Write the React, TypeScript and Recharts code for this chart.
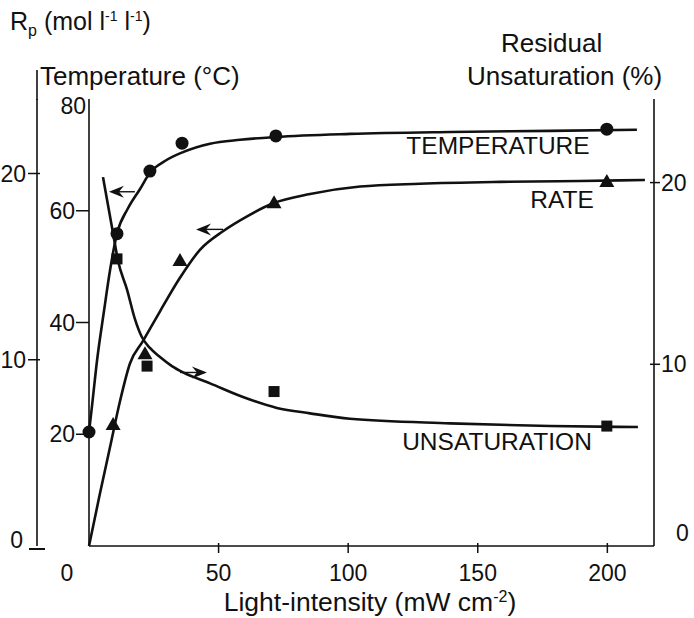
import { ComposedChart, Customized, Line, ReferenceLine, Scatter, XAxis, YAxis } from 'recharts'

const FONT = '"Liberation Sans", Arial, Helvetica, sans-serif'
const INK = '#111'

// axis ticks
const xTicks = [0, 50, 100, 150, 200]
const tempTicks = [20, 40, 60, 80]
const rateTicks = [0, 10, 20]
const unsatTicks = [0, 10, 20]

// measured points (light intensity, value)
const tempMarkX = [0, 10.8, 23.5, 35.9, 72.1, 199.8]
const tempMarkY = [20.4, 55.9, 67.1, 72.1, 73.4, 74.6]
const rateMarkX = [9.3, 21.6, 35.1, 71.4, 199.8]
const rateMarkY = [6.5, 10.3, 15.3, 18.4, 19.55]
const unsatMarkX = [10.8, 22.4, 71.4, 199.8]
const unsatMarkY = [15.8, 9.9, 8.5, 6.6]

// hand-drawn curves
const tempCurveX = [0, 1.2, 3.1, 5.8, 8.1, 10.8, 15.0, 19.7, 23.5, 29.3, 36.3, 46.7, 58.3, 72.1, 100.7, 139.3, 177.9, 211.4]
const tempCurveY = [20.4, 25.2, 33.2, 42.1, 49.3, 55.9, 60.4, 63.9, 66.8, 68.9, 70.5, 72.0, 72.7, 73.2, 73.75, 74.1, 74.3, 74.5]
const rateCurveX = [0, 4.2, 8.1, 12.0, 15.8, 20.8, 27.4, 35.1, 42.8, 51.7, 61.0, 71.0, 85.3, 104.6, 127.7, 158.6, 189.4, 214.5]
const rateCurveY = [0, 2.8, 5.3, 7.8, 9.8, 11.0, 12.6, 14.4, 15.9, 16.9, 17.7, 18.4, 18.9, 19.3, 19.45, 19.55, 19.6, 19.65]
const unsatCurveX = [5.4, 9.3, 11.2, 14.7, 17.7, 20.4, 23.5, 27.4, 32.0, 36.3, 46.7, 59.4, 72.5, 85.3, 100.7, 139.3, 177.9, 211.8]
const unsatCurveY = [20.3, 17.2, 15.7, 14.1, 12.5, 11.5, 10.9, 10.4, 9.9, 9.55, 8.95, 8.2, 7.6, 7.3, 7.0, 6.75, 6.6, 6.55]

const zip = (xs: number[], ys: number[]) => xs.map((x, i) => ({ x, y: ys[i] }))

const tempCurve = zip(tempCurveX, tempCurveY)
const rateCurve = zip(rateCurveX, rateCurveY)
const unsatCurve = zip(unsatCurveX, unsatCurveY)
const tempMarks = zip(tempMarkX, tempMarkY)
const rateMarks = zip(rateMarkX, rateMarkY)
const unsatMarks = zip(unsatMarkX, unsatMarkY)

// axis ids; the left axes are stacked in id order (first = next to the plot)
const TEMP = 'a-temp'
const RATE = 'b-rate'
const UNSAT = 'c-unsat'

const textStyle = { fontFamily: FONT, fill: INK }

function XTick({ x, y, payload }: any) {
  const v = payload.value
  return (
    <g>
      {v !== 0 && <line x1={x} x2={x} y1={y - 3} y2={y + 7} stroke={INK} strokeWidth={1.5} />}
      <text x={v === 0 ? x - 22 : x} y={y + 35} textAnchor="middle" fontSize={23} {...textStyle}>
        {v}
      </text>
    </g>
  )
}

function TempTick({ x, y, payload }: any) {
  const v = payload.value
  return (
    <g>
      {v !== 80 && <line x1={x - 13} x2={x} y1={y} y2={y} stroke={INK} strokeWidth={1.5} />}
      <text x={v === 80 ? x - 3 : x - 14} y={v === 80 ? y + 15 : y + 8} textAnchor="end" fontSize={23} {...textStyle}>
        {v}
      </text>
    </g>
  )
}

function RateTick({ x, y, payload }: any) {
  const v = payload.value
  return (
    <g>
      {v === 0 ? (
        <line x1={x - 8} x2={x + 8} y1={y + 3} y2={y + 3} stroke={INK} strokeWidth={2} />
      ) : (
        <line x1={x - 9} x2={x + 3} y1={y} y2={y} stroke={INK} strokeWidth={1.5} />
      )}
      <text x={v === 0 ? x - 14 : x - 11} y={v === 0 ? y + 2 : y + 8} textAnchor="end" fontSize={23} {...textStyle}>
        {v}
      </text>
    </g>
  )
}

function UnsatTick({ x, y, payload }: any) {
  const v = payload.value
  return (
    <g>
      {v !== 0 && <line x1={x - 4} x2={x + 6} y1={y} y2={y} stroke={INK} strokeWidth={1.5} />}
      <text x={v === 0 ? x + 22 : x + 7} y={v === 0 ? y - 5 : y + 8} textAnchor="start" fontSize={23} {...textStyle}>
        {v}
      </text>
    </g>
  )
}

function Arrow({ x1, y1, x2, y2 }: any) {
  const dx = x2 - x1
  const dy = y2 - y1
  const len = Math.hypot(dx, dy) || 1
  const ux = dx / len
  const uy = dy / len
  const nx = -uy
  const ny = ux
  const bx = x2 - ux * 15
  const by = y2 - uy * 15
  const ix = x2 - ux * 10
  const iy = y2 - uy * 10
  return (
    <g>
      <line x1={x1} y1={y1} x2={ix} y2={iy} stroke={INK} strokeWidth={1.4} />
      <polygon
        points={`${x2},${y2} ${bx + nx * 6},${by + ny * 6} ${ix},${iy} ${bx - nx * 6},${by - ny * 6}`}
        fill={INK}
      />
    </g>
  )
}

const circle = (p: any) => <circle cx={p.cx} cy={p.cy} r={6.5} fill={INK} />
const triangle = (p: any) => (
  <polygon points={`${p.cx},${p.cy - 8} ${p.cx - 7.5},${p.cy + 5} ${p.cx + 7.5},${p.cy + 5}`} fill={INK} />
)
const square = (p: any) => <rect x={p.cx - 5.5} y={p.cy - 5.5} width={11} height={11} fill={INK} />

function Titles() {
  return (
    <g {...textStyle}>
      <line x1={37} x2={37} y1={70} y2={100} stroke={INK} strokeWidth={1.6} />
      <text x={10} y={30} fontSize={25} {...textStyle}>
        R<tspan dy={6} fontSize={16}>p</tspan>
        <tspan dy={-6}> (mol l</tspan>
        <tspan dy={-9} fontSize={14}>-1</tspan>
        <tspan dy={9}> l</tspan>
        <tspan dy={-9} fontSize={14}>-1</tspan>
        <tspan dy={9}>)</tspan>
      </text>
      <text x={40} y={85} fontSize={26} {...textStyle}>Temperature (°C)</text>
      <text x={501} y={52} fontSize={26} {...textStyle}>Residual</text>
      <text x={467} y={85} fontSize={26} {...textStyle}>Unsaturation (%)</text>
      <text x={370} y={611} fontSize={26.5} textAnchor="middle" {...textStyle}>
        Light-intensity (mW cm<tspan dy={-9} fontSize={16}>-2</tspan>
        <tspan dy={9}>)</tspan>
      </text>
      <text x={498} y={154} fontSize={24.5} textAnchor="middle" {...textStyle}>TEMPERATURE</text>
      <text x={562} y={208} fontSize={24.5} textAnchor="middle" {...textStyle}>RATE</text>
      <text x={497} y={450} fontSize={24.5} textAnchor="middle" {...textStyle}>UNSATURATION</text>
    </g>
  )
}

export default function App() {
  const axisLine = { stroke: INK, strokeWidth: 1.6 }
  return (
    <div style={{ position: 'absolute', left: 0, top: 0, width: 694, height: 618, background: '#fff' }}>
      <ComposedChart width={694} height={618} margin={{ top: 99, right: 0, bottom: 0, left: 0 }}>
        <XAxis
          xAxisId="x"
          type="number"
          dataKey="x"
          domain={[0, 218]}
          ticks={xTicks}
          interval={0}
          height={72}
          tickSize={0}
          tickMargin={0}
          tickLine={false}
          axisLine={axisLine}
          tick={<XTick />}
        />
        <XAxis xAxisId="top" orientation="top" type="number" domain={[0, 218]} height={0} tick={false} tickLine={false} axisLine={axisLine} />
        <YAxis
          yAxisId={TEMP}
          orientation="left"
          type="number"
          width={52}
          domain={[0, 80]}
          ticks={tempTicks}
          interval={0}
          tickSize={0}
          tickMargin={0}
          tickLine={false}
          axisLine={axisLine}
          tick={<TempTick />}
        />
        <YAxis
          yAxisId={RATE}
          orientation="left"
          type="number"
          width={37}
          domain={[0, 24]}
          ticks={rateTicks}
          interval={0}
          tickSize={0}
          tickMargin={0}
          tickLine={false}
          axisLine={axisLine}
          tick={<RateTick />}
        />
        <YAxis
          yAxisId={UNSAT}
          orientation="right"
          type="number"
          width={40}
          domain={[0, 24.6]}
          ticks={unsatTicks}
          interval={0}
          tickSize={0}
          tickMargin={0}
          tickLine={false}
          axisLine={axisLine}
          tick={<UnsatTick />}
        />

        <Line data={tempCurve} xAxisId="x" yAxisId={TEMP} dataKey="y" type="monotone" stroke={INK} strokeWidth={2.6} dot={false} isAnimationActive={false} />
        <Line data={rateCurve} xAxisId="x" yAxisId={RATE} dataKey="y" type="monotone" stroke={INK} strokeWidth={2.6} dot={false} isAnimationActive={false} />
        <Line data={unsatCurve} xAxisId="x" yAxisId={UNSAT} dataKey="y" type="monotone" stroke={INK} strokeWidth={2.6} dot={false} isAnimationActive={false} />

        <Scatter data={tempMarks} xAxisId="x" yAxisId={TEMP} dataKey="y" shape={circle} isAnimationActive={false} />
        <Scatter data={rateMarks} xAxisId="x" yAxisId={RATE} dataKey="y" shape={triangle} isAnimationActive={false} />
        <Scatter data={unsatMarks} xAxisId="x" yAxisId={UNSAT} dataKey="y" shape={square} isAnimationActive={false} />

        <ReferenceLine xAxisId="x" yAxisId={TEMP} segment={[{ x: 17.7, y: 63.4 }, { x: 7.7, y: 63.4 }]} shape={Arrow} />
        <ReferenceLine xAxisId="x" yAxisId={RATE} segment={[{ x: 51.7, y: 17.0 }, { x: 41.3, y: 17.0 }]} shape={Arrow} />
        <ReferenceLine xAxisId="x" yAxisId={UNSAT} segment={[{ x: 35.1, y: 9.55 }, { x: 45.5, y: 9.55 }]} shape={Arrow} />

        <Customized component={<Titles />} />
      </ComposedChart>
    </div>
  )
}
